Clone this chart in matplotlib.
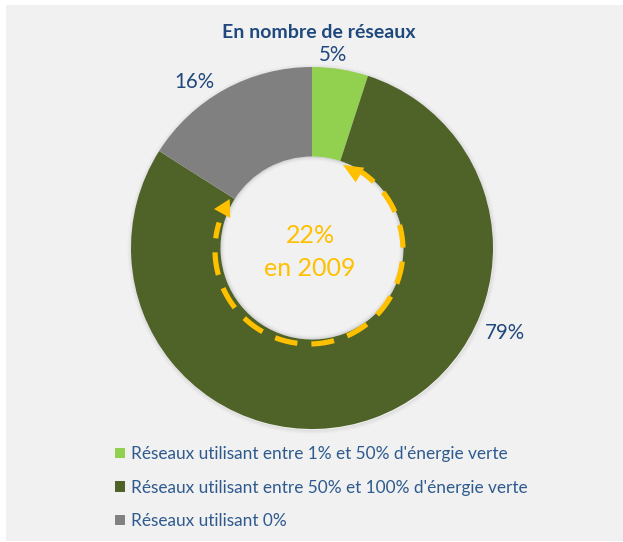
import numpy as np
import matplotlib
matplotlib.use("Agg")
import matplotlib.pyplot as plt
from matplotlib.patches import Rectangle, Wedge, Polygon

plt.rcParams['font.family'] = ['Lato', 'DejaVu Sans']

# ---- data ----
categories = ["Réseaux utilisant entre 1% et 50% d'énergie verte",
              "Réseaux utilisant entre 50% et 100% d'énergie verte",
              "Réseaux utilisant 0%"]
values = [5, 79, 16]
pct_labels = ["5%", "79%", "16%"]
title = "En nombre de réseaux"
center_text = "22%\nen 2009"

colors = ["#92D050", "#4F6228", "#808080"]
text_blue = "#1F497D"
legend_blue = "#2E5A8E"
yellow = "#FFC000"

W, H = 623, 542
fig = plt.figure(figsize=(W / 100, H / 100), dpi=100, facecolor="white")
ax = fig.add_axes([0, 0, 1, 1])

def Y(y_img):
    return H - y_img

# background panel
ax.add_patch(Rectangle((6, 1), W - 6, H - 6, facecolor="#F1F1F1", edgecolor="none", zorder=0))

cx, cy = 312, Y(248)
R_out, R_in = 181, 91.5

# soft outer shadow
for i, a in enumerate([0.10, 0.07, 0.045, 0.025]):
    ax.add_patch(Wedge((cx + 0.5, cy - 1), R_out + 1 + i, 0, 360, width=1.2,
                       facecolor="#555555", alpha=a, edgecolor="none", zorder=1))

wedges, _ = ax.pie(values, colors=colors, startangle=90, counterclock=False,
                   radius=R_out, center=(cx, cy),
                   wedgeprops=dict(width=R_out - R_in, edgecolor="none"))
for w in wedges:
    w.set_zorder(2)

# soft inner shadow (inside the hole)
for i, a in enumerate([0.16, 0.09, 0.05, 0.025]):
    ax.add_patch(Wedge((cx, cy), R_in - i, 0, 360, width=1.1,
                       facecolor="#444444", alpha=a, edgecolor="none", zorder=3))

# percentage labels (placed outside, Excel best-fit style)
label_pos = [(333, 55), (505, 333), (194, 82)]
for lab, (x, y) in zip(pct_labels, label_pos):
    ax.text(x, Y(y), lab, ha="center", va="center", fontsize=14.8, color=text_blue, zorder=5)

# title
ax.text(319, Y(33), title, ha="center", va="center", fontsize=14, fontweight="bold",
        color=text_blue, zorder=5)

# center text
ax.text(310, Y(252), center_text, ha="center", va="center", fontsize=18,
        color=yellow, linespacing=1.5, zorder=5)

# dashed yellow arc with arrowheads
acx, acy, ar = 309, Y(250), 94
lw_px = 5.2
lw_pt = lw_px * 72 / 100
theta = np.radians(np.linspace(56 + 360, 163, 400))
ax.plot(acx + ar * np.cos(theta), acy + ar * np.sin(theta), color=yellow, lw=lw_pt,
        ls=(0, (3.0, 2.7, 4.4, 2.7, 4.4, 2.7, 4.4, 2.7, 4.4, 2.7, 4.4, 2.7, 4.4, 2.7,
                4.4, 2.7, 4.4, 2.7, 4.4, 2.7, 4.4, 2.7, 4.4, 2.7, 4.4, 2.7)),
        solid_capstyle="butt", dash_capstyle="butt", zorder=6)

def arrow_head(tip, base_c, half_w, color):
    tip = np.array([tip[0], Y(tip[1])], float)
    base_c = np.array([base_c[0], Y(base_c[1])], float)
    d = tip - base_c
    n = np.array([-d[1], d[0]]) / np.hypot(*d)
    pts = [tip, base_c + n * half_w, base_c - n * half_w]
    ax.add_patch(Polygon(pts, closed=True, facecolor=color, edgecolor="none", zorder=7))

arrow_head((343, 165), (360, 175), 8.5, yellow)
arrow_head((214, 209), (230, 208.5), 9.5, yellow)

# legend
leg = ax.legend(wedges, categories, loc="upper left",
                bbox_to_anchor=(115 / W, Y(446) / H), frameon=False,
                fontsize=12.4, handlelength=0.58, handleheight=0.58,
                handletextpad=0.37, labelspacing=1.02, borderaxespad=0, borderpad=0)
for t in leg.get_texts():
    t.set_color(legend_blue)

ax.set_xlim(0, W)
ax.set_ylim(0, H)
ax.set_aspect("auto")
ax.axis("off")

fig.savefig("out.png", dpi=100, facecolor="white")
